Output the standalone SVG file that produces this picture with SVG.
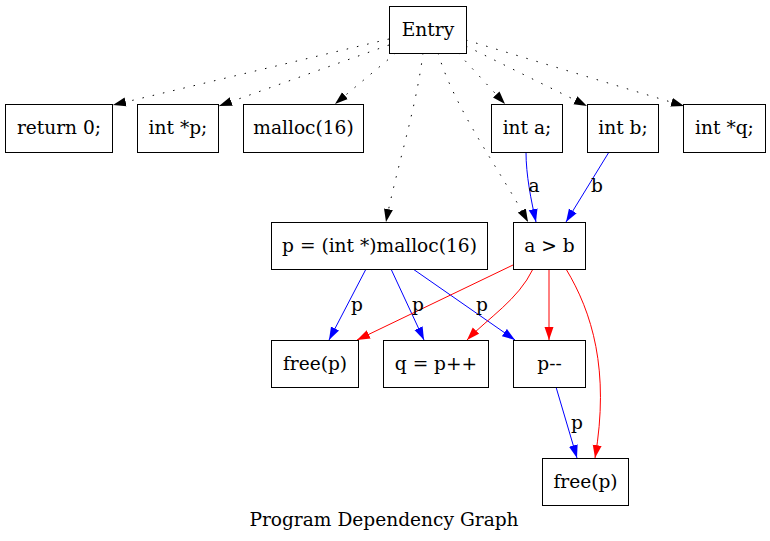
<svg xmlns="http://www.w3.org/2000/svg" width="770" height="541" viewBox="0 0 770 541">
<style>
.n rect{fill:#fff;stroke:#000;stroke-width:1}
text{font-family:"DejaVu Serif","Liberation Serif",serif;font-size:18.6px;text-anchor:middle;fill:#000}
.e path{fill:none;stroke-width:1}
.d{stroke:#000;stroke-width:1.5;stroke-dasharray:1.5,9}
.b{stroke:#00f}
.r{stroke:#f00}
</style>
<defs>
<marker id="ak" markerUnits="userSpaceOnUse" markerWidth="13" markerHeight="10" refX="13" refY="5" orient="auto"><path d="M0,0.5L13,5L0,9.5z" fill="#000"/></marker>
<marker id="ab" markerUnits="userSpaceOnUse" markerWidth="13" markerHeight="10" refX="13" refY="5" orient="auto"><path d="M0,0.5L13,5L0,9.5z" fill="#00f"/></marker>
<marker id="ar" markerUnits="userSpaceOnUse" markerWidth="13" markerHeight="10" refX="13" refY="5" orient="auto"><path d="M0,0.5L13,5L0,9.5z" fill="#f00"/></marker>
</defs>
<rect width="770" height="541" fill="#fff"/>
<g id="edges" class="e">
<path class="d" d="M389,39L113,105" marker-end="url(#ak)"/>
<path class="d" d="M389,45L219,106" marker-end="url(#ak)"/>
<path class="d" d="M396,53L335,104" marker-end="url(#ak)"/>
<path class="d" d="M423,53C416,110 396,170 386,222" marker-end="url(#ak)"/>
<path class="d" d="M438,53C455,110 500,170 528,222" marker-end="url(#ak)"/>
<path class="d" d="M458,53L505,104" marker-end="url(#ak)"/>
<path class="d" d="M466,46L587,106" marker-end="url(#ak)"/>
<path class="d" d="M466,40L684,106" marker-end="url(#ak)"/>
<path class="b" d="M526,152C526,175 531,200 536,222" marker-end="url(#ab)"/>
<path class="b" d="M609,152L566,222" marker-end="url(#ab)"/>
<path class="b" d="M366,269L329,340" marker-end="url(#ab)"/>
<path class="b" d="M391,269L424,340" marker-end="url(#ab)"/>
<path class="b" d="M413,269L515,340" marker-end="url(#ab)"/>
<path class="r" d="M513,265L357,340" marker-end="url(#ar)"/>
<path class="r" d="M533,269C518,300 488,318 467,340" marker-end="url(#ar)"/>
<path class="r" d="M549,269L549,340" marker-end="url(#ar)"/>
<path class="r" d="M566,269C592,312 610,370 595,458" marker-end="url(#ar)"/>
<path class="b" d="M556,387L577,458" marker-end="url(#ab)"/>
</g>
<g id="edge-labels">
<text x="534" y="192">a</text>
<text x="597" y="192">b</text>
<text x="357" y="311">p</text>
<text x="418" y="311">p</text>
<text x="482" y="311">p</text>
<text x="577" y="429">p</text>
</g>
<g id="entry" class="n"><rect x="389.5" y="6.5" width="77" height="47"/><text x="428" y="35.5">Entry</text></g>
<g id="ret" class="n"><rect x="5.5" y="104.5" width="107" height="48"/><text x="59" y="134">return 0;</text></g>
<g id="intp" class="n"><rect x="137.5" y="104.5" width="81" height="48"/><text x="178" y="134">int *p;</text></g>
<g id="malloc" class="n"><rect x="243.5" y="104.5" width="120" height="48"/><text x="303.5" y="134">malloc(16)</text></g>
<g id="inta" class="n"><rect x="491.5" y="104.5" width="71" height="48"/><text x="527" y="134">int a;</text></g>
<g id="intb" class="n"><rect x="587.5" y="104.5" width="71" height="48"/><text x="623" y="134">int b;</text></g>
<g id="intq" class="n"><rect x="683.5" y="104.5" width="82" height="48"/><text x="724.5" y="134">int *q;</text></g>
<g id="passign" class="n"><rect x="271.5" y="222.5" width="216" height="47"/><text x="379.5" y="251.5">p = (int *)malloc(16)</text></g>
<g id="cmp" class="n"><rect x="513.5" y="222.5" width="72" height="47"/><text x="549.5" y="251.5">a &gt; b</text></g>
<g id="free1" class="n"><rect x="271.5" y="340.5" width="87" height="47"/><text x="315" y="369.5">free(p)</text></g>
<g id="qpp" class="n"><rect x="383.5" y="340.5" width="105" height="47"/><text x="436" y="369.5">q = p++</text></g>
<g id="pmm" class="n"><rect x="513.5" y="340.5" width="72" height="47"/><text x="549.5" y="369.5">p--</text></g>
<g id="free2" class="n"><rect x="542.5" y="458.5" width="86" height="47"/><text x="585.5" y="487.5">free(p)</text></g>
<text x="384" y="525.5">Program Dependency Graph</text>
</svg>
